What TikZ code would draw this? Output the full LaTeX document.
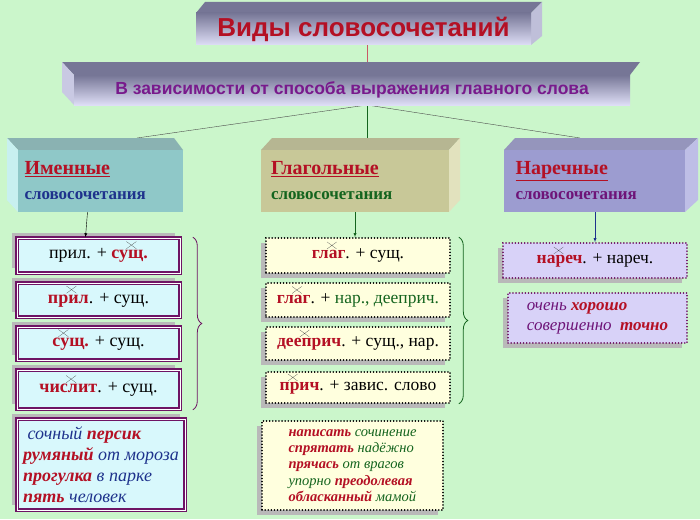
\documentclass[tikz,border=0pt]{standalone}
\usepackage{fontspec}
\setmainfont{Liberation Serif}
\newfontfamily\hdfont{Liberation Sans}
\usetikzlibrary{shadows,calc,decorations.pathreplacing}
\definecolor{bgGreen}{RGB}{203,246,203}
\definecolor{mainRed}{RGB}{180,16,36}
\definecolor{subPurple}{RGB}{120,26,140}
\definecolor{slateTop}{RGB}{118,118,150}
\definecolor{slateLow}{RGB}{222,222,246}
\definecolor{nomFront}{RGB}{143,200,200}
\definecolor{nomSide}{RGB}{200,240,240}
\definecolor{verbFront}{RGB}{200,200,152}
\definecolor{verbSide}{RGB}{226,226,190}
\definecolor{advFront}{RGB}{156,156,208}
\definecolor{advSide}{RGB}{190,190,230}
\definecolor{nomText}{RGB}{30,50,140}
\definecolor{verbText}{RGB}{20,100,30}
\definecolor{advText}{RGB}{110,20,120}
\definecolor{cyanFill}{RGB}{216,248,252}
\definecolor{yellowFill}{RGB}{255,255,222}
\definecolor{lavFill}{RGB}{216,210,248}
\definecolor{boxPurple}{RGB}{110,20,100}
\newcommand\glav[1]{\textcolor{mainRed}{\textbf{#1}}}
\newcommand\krest{\tikz[overlay]{\draw[black!75,very thin] (-0.1em,0.55em)--(0.45em,0.95em) (-0.1em,0.95em)--(0.45em,0.55em);}}
\tikzset{
  slab/.style={minimum width=#1, inner sep=0pt, outer sep=0pt},
  nombox/.style={draw=boxPurple, line width=1.6pt, fill=cyanFill, double=white, double distance=0.6pt,
    inner sep=0pt, font=\fontsize{18}{20}\selectfont,
    general shadow={fill=gray!55, shadow xshift=-5pt, shadow yshift=5pt}},
  verbbox/.style={draw=black, line width=1.6pt, dash pattern=on 0.1pt off 3pt, line cap=round, fill=yellowFill,
    inner sep=0pt, font=\fontsize{17.5}{20}\selectfont,
    general shadow={fill=gray!55, shadow xshift=-5pt, shadow yshift=-5pt}},
  advbox/.style={verbbox, draw=boxPurple, fill=lavFill},
  link/.style={thin},
}
\begin{document}
\begin{tikzpicture}[x=1pt,y=-1pt]
\fill[bgGreen] (0,0) rectangle (700,519);
\useasboundingbox (0,0) rectangle (700,519);
% connecting lines go first
\draw[link, mainRed!70] (367,45) -- (367,62);
\draw[link, black!70] (367,105) -- (137,138);
\draw[link, verbText] (367,105) -- (367,138);
\draw[link, black!70] (367,105) -- (580,138);
% title
\fill[slateTop] (196,13) -- (205,2) -- (542,2) -- (531,13) -- cycle;
\fill[slateLow!70!slateTop] (531,13) -- (542,2) -- (542,36) -- (531,45) -- cycle;
\node[slab=335pt, minimum height=32pt, top color=slateTop, bottom color=slateLow,
  font=\hdfont\bfseries\fontsize{26}{28}\selectfont, text=mainRed] (title) at (363.5,29) {Виды словосочетаний};
% second level
\fill[slateTop] (62,62) -- (640,62) -- (630,75) -- (74,75) -- cycle;
\fill[slateLow!80!slateTop] (62,62) -- (74,75) -- (74,105) -- (62,92) -- cycle;
\node[slab=556pt, minimum height=30pt, top color=slateTop, bottom color=slateLow,
  font=\hdfont\bfseries\fontsize{17.5}{20}\selectfont, text=subPurple] (sub) at (352,90)
  {В зависимости от способа выражения главного слова};
% three kinds
\fill[nomFront!70!gray] (7,138) -- (174,138) -- (183,150) -- (18,150) -- cycle;
\fill[nomSide] (7,138) -- (18,150) -- (18,212) -- (7,200) -- cycle;
\node[slab=165pt, minimum height=62pt, fill=nomFront, align=left, text width=152pt,
  font=\fontsize{20}{22}\selectfont] (nom) at (100.5,181)
  {\glav{\underline{Именные}}\\[3pt]
   \fontsize{17}{19}\selectfont\textcolor{nomText}{\textbf{словосочетания}}};
\fill[verbFront!75!gray] (272,138) -- (460,138) -- (449,150) -- (261,150) -- cycle;
\fill[verbSide] (449,150) -- (460,138) -- (460,200) -- (449,212) -- cycle;
\node[slab=188pt, minimum height=62pt, fill=verbFront, align=left, text width=168pt,
  font=\fontsize{20}{22}\selectfont] (verb) at (355,181)
  {\glav{\underline{Глагольные}}\\[3pt]
   \fontsize{17}{19}\selectfont\textcolor{verbText}{\textbf{словосочетания}}};
\fill[advFront!75!gray] (515,138) -- (698,138) -- (685,150) -- (504,150) -- cycle;
\fill[advSide] (685,150) -- (698,138) -- (698,200) -- (685,212) -- cycle;
\node[slab=181pt, minimum height=62pt, fill=advFront, align=left, text width=158pt,
  font=\fontsize{20}{22}\selectfont] (adv) at (594.5,181)
  {\glav{\underline{Наречные}}\\[3pt]
   \fontsize{17}{19}\selectfont\textcolor{advText}{\textbf{словосочетания}}};
% noun column
\node[nombox, minimum width=163pt, minimum height=35pt] (n1) at (98.5,255.5) {прил. + \glav{су\krest щ.}};
\node[nombox, minimum width=163pt, minimum height=34pt] (n2) at (98.5,300) {\glav{пр\krest ил}. + сущ.};
\node[nombox, minimum width=163pt, minimum height=33pt] (n3) at (98.5,343.5) {\glav{с\krest ущ.} + сущ.};
\node[nombox, minimum width=163pt, minimum height=39pt] (n4) at (98.5,389.5) {\glav{чис\krest лит}. + сущ.};
\node[nombox, minimum width=168pt, minimum height=91pt, align=left, font=\itshape\fontsize{18}{21}\selectfont] (n5) at (101,464.5)
  {\textcolor{nomText}{\ сочный} \glav{персик}\\
   \glav{румяный} \textcolor{nomText}{от мороза}\\
   \glav{прогулка} \textcolor{nomText}{в парке}\\
   \glav{пять} \textcolor{nomText}{человек}};
% verb column
\node[verbbox, minimum width=184pt, minimum height=35pt] (v1) at (358,255.5) {\glav{гл\krest аг}. + сущ.};
\node[verbbox, minimum width=184pt, minimum height=34pt] (v2) at (358,300) {\glav{гл\krest аг}. + \textcolor{verbText}{нар., дееприч.}};
\node[verbbox, minimum width=184pt, minimum height=33pt] (v3) at (358,343.5) {\glav{дее\krest прич}. + сущ., нар.};
\node[verbbox, minimum width=184pt, minimum height=31pt] (v4) at (358,387.5) {\glav{п\krest рич}. + завис. слово};
\node[verbbox, minimum width=181pt, minimum height=89pt, align=left, font=\itshape\fontsize{14.5}{16.2}\selectfont] (v5) at (352.5,465.5)
  {\glav{написать} \textcolor{verbText}{сочинение}\\
   \glav{спрятать} \textcolor{verbText}{надёжно}\\
   \glav{прячась} \textcolor{verbText}{от врагов}\\
   \textcolor{verbText}{упорно} \glav{преодолевая}\\
   \glav{обласканный} \textcolor{verbText}{мамой}};
% adverb column
\node[advbox, minimum width=184pt, minimum height=35pt] (a1) at (595,260.5) {\glav{на\krest реч}. + нареч.};
\node[advbox, minimum width=179pt, minimum height=50pt, align=left] (a2) at (597.5,318)
  {\itshape\fontsize{17}{19}\selectfont\textcolor{advText}{очень} \glav{хорошо}\\
   \itshape\fontsize{17}{19}\selectfont\textcolor{advText}{совершенно} \ \glav{точно}};
% arrows down
\draw[-latex, black] ([xshift=-13pt]nom.south) -- ([xshift=-13pt]n1.north);
\draw[-latex, verbText] (verb.south) -- (verb.south |- v1.north);
\draw[-latex, nomText] (adv.south -| a1.north) -- (a1.north);
% braces
\draw[boxPurple, thick, decorate, decoration={brace, amplitude=9pt}] ($(n1.north east)+(12,0)$) -- ($(n4.south east)+(12,0)$);
\draw[verbText, thick, decorate, decoration={brace, amplitude=9pt}] ($(v1.north east)+(8,0)$) -- ($(v4.south east)+(8,0)$);
\end{tikzpicture}
\end{document}
